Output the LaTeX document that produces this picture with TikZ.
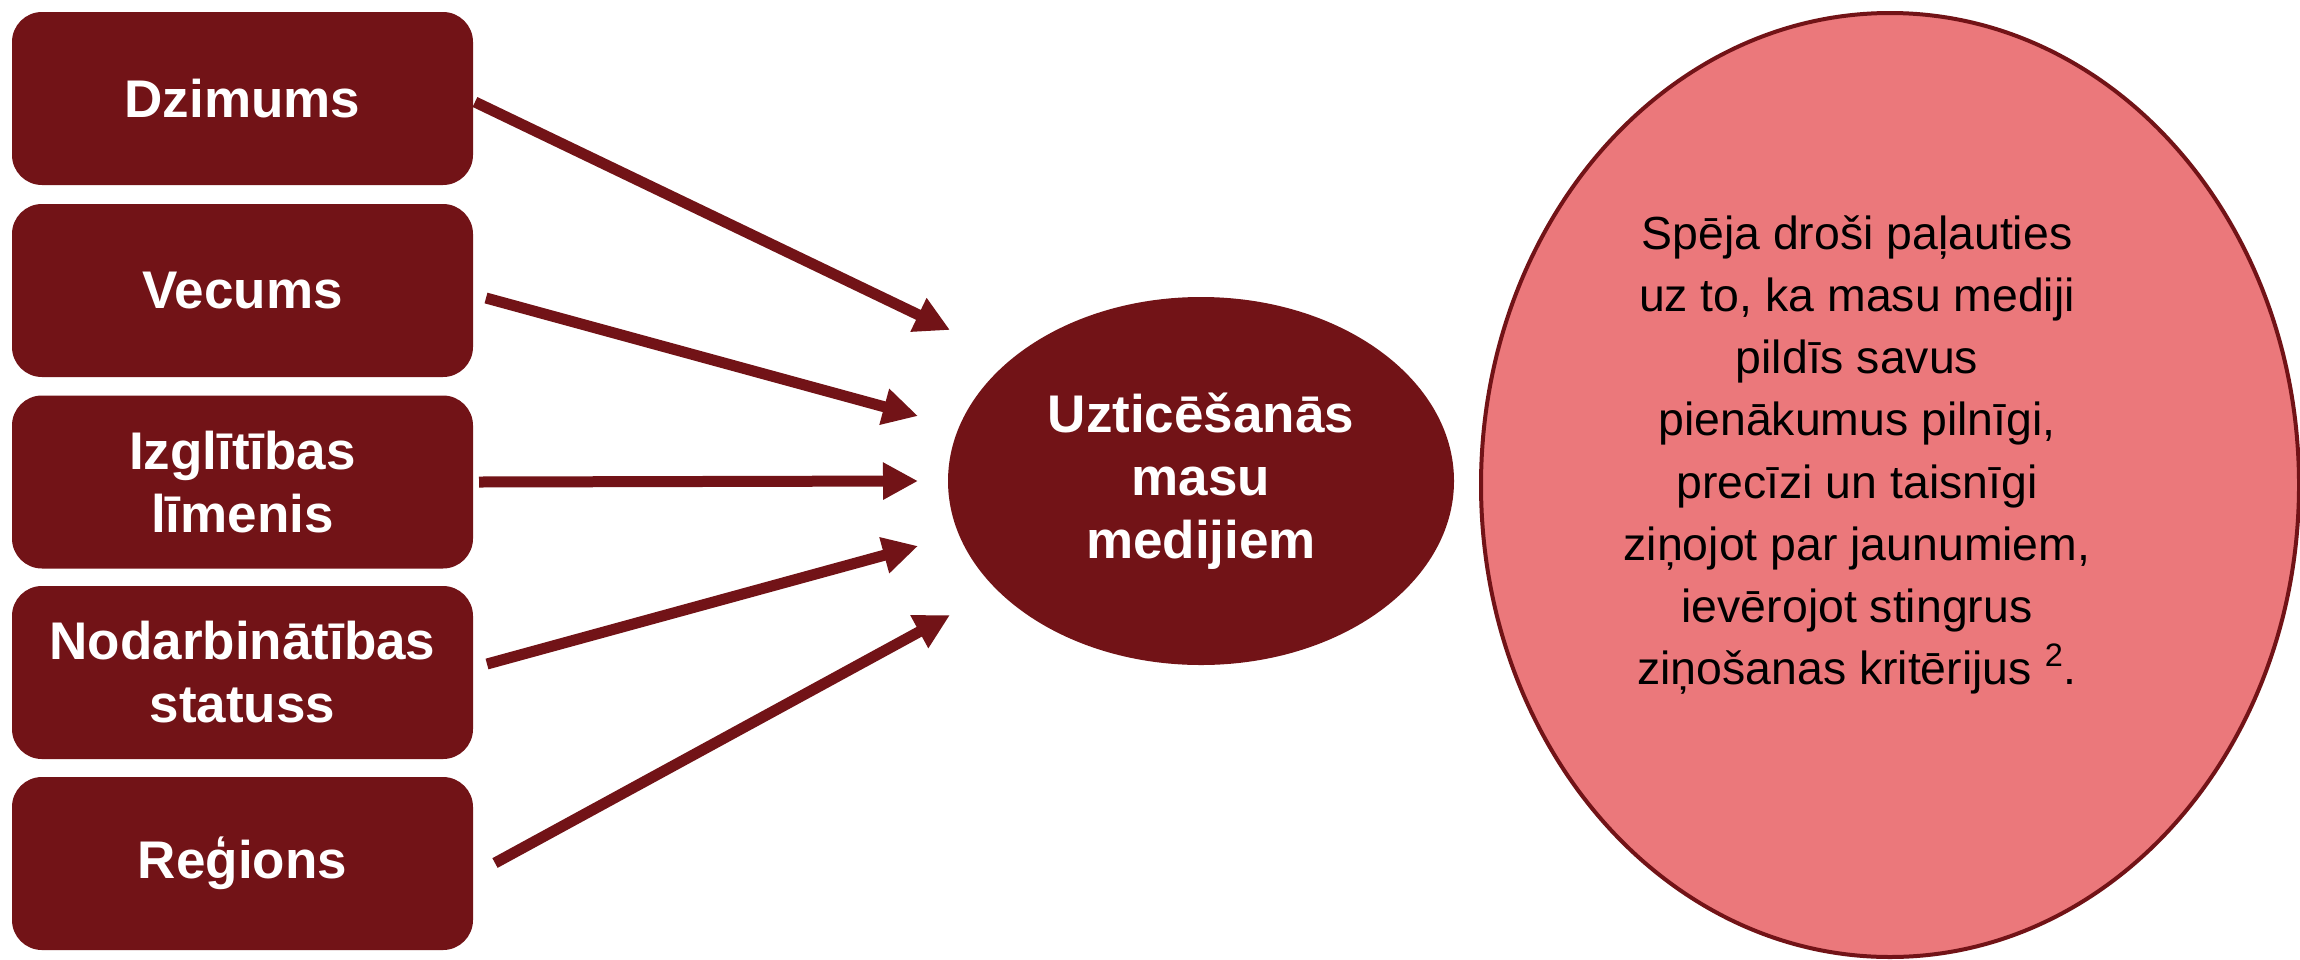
\documentclass[tikz,border=0pt]{standalone}
\usepackage{fontspec}
\setmainfont{Liberation Sans}
\usetikzlibrary{arrows.meta,shapes.geometric}
\definecolor{dred}{HTML}{721317}
\definecolor{rosefill}{HTML}{EB787B}
\begin{document}
\begin{tikzpicture}[x=0.5pt,y=-0.5pt,
  box/.style={fill=dred, rounded corners=15pt, minimum width=230.5pt, minimum height=86.5pt,
    inner sep=0pt, text=white, align=center, font=\bfseries\fontsize{26.5}{31.5}\selectfont},
  arr/.style={draw=dred, line width=5.5pt, -{Triangle[length=17.5pt,width=17.5pt]}},
  ]
\useasboundingbox (0,0) rectangle (2300,959);
\clip (0,0) rectangle (2300,959);
\fill[white] (0,0) rectangle (2300,959);

\node[box] (b1) at (242.5,98.5) {Dzimums};
\node[box] (b2) at (242.5,290.5) {Vecums};
\node[box] (b3) at (242.5,482) {Izglītības\\līmenis};
\node[box] (b4) at (242.5,672.5) {Nodarbinātības\\statuss};
\node[box] (b5) at (242.5,863.5) {Reģions};

\node[ellipse, fill=dred, minimum width=253pt, minimum height=184pt, inner sep=0pt,
  text=white, align=center, font=\bfseries\fontsize{26.5}{31.5}\selectfont] (mid) at (1201,481)
  {Uzticēšanās\\masu\\medijiem};

\node[ellipse, draw=dred, line width=2pt, fill=rosefill, minimum width=409pt, minimum height=472pt,
  inner sep=0pt] (big) at (1890,485) {};
\node[align=center, font=\fontsize{23.2}{31.1}\selectfont, text=black, inner sep=0pt] (bigtxt) at (1857,455)
  {Spēja droši paļauties\\uz to, ka masu mediji\\pildīs savus\\pienākumus pilnīgi,\\precīzi un taisnīgi\\ziņojot par jaunumiem,\\ievērojot stingrus\\ziņošanas kritērijus \textsuperscript{2}.};

\coordinate (s1) at (475,102);  \coordinate (t1) at (950,330);
\coordinate (s2) at (486,298);  \coordinate (t2) at (918,416);
\coordinate (s3) at (479,482);  \coordinate (t3) at (918,481);
\coordinate (s4) at (487,664);  \coordinate (t4) at (918,546);
\coordinate (s5) at (495,863);  \coordinate (t5) at (950,615);
\draw[arr] (s1) -- (t1);
\draw[arr] (s2) -- (t2);
\draw[arr] (s3) -- (t3);
\draw[arr] (s4) -- (t4);
\draw[arr] (s5) -- (t5);
\end{tikzpicture}
\end{document}
